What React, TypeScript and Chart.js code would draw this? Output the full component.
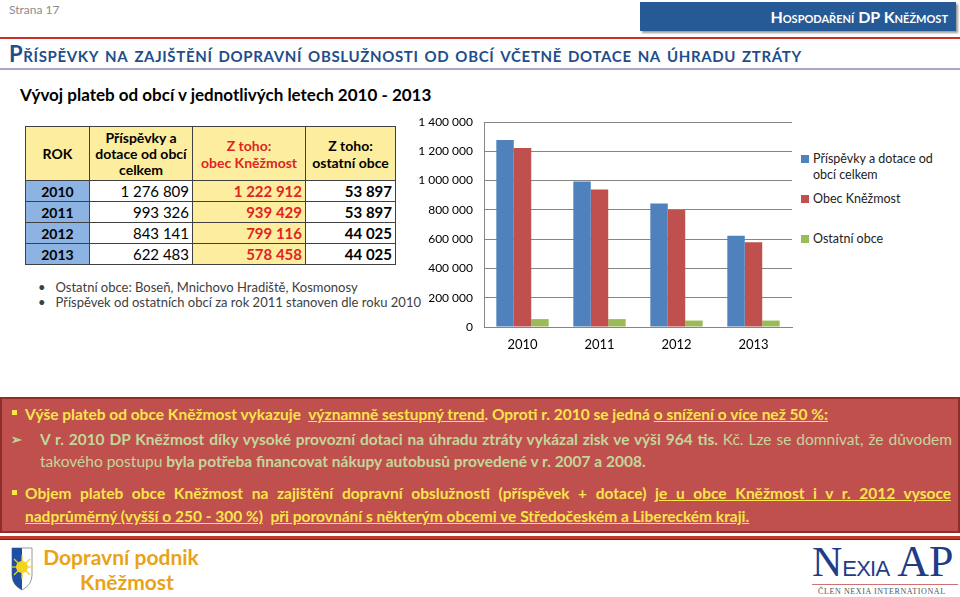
import React, { useEffect, useRef } from "react";
import { Chart, registerables } from "chart.js";

Chart.register(...registerables);

const years = ["2010", "2011", "2012", "2013"];
const totalValues = [1276809, 993326, 843141, 622483];
const kinzmostValues = [1222912, 939429, 799116, 578458];
const otherValues = [53897, 53897, 44025, 44025];
const seriesNames = ["Příspěvky a dotace od obcí celkem", "Obec Kněžmost", "Ostatní obce"];
const seriesColors = ["#4F81BD", "#C0504D", "#9BBB59"];
const yTicksMax = 1400000;
const yStep = 200000;

const fmt = (n: number) => n.toString().replace(/\B(?=(\d{3})+(?!\d))/g, " ");

const FONT = "Lato, 'Open Sans', sans-serif";

function BarChart() {
  const ref = useRef<HTMLCanvasElement>(null);
  useEffect(() => {
    if (!ref.current) return;
    const chart = new Chart(ref.current, {
      type: "bar",
      data: {
        labels: years,
        datasets: [totalValues, kinzmostValues, otherValues].map((d, i) => ({
          label: seriesNames[i],
          data: d,
          backgroundColor: seriesColors[i],
          borderWidth: 0,
          barPercentage: 1,
          categoryPercentage: 0.68,
        })),
      },
      options: {
        animation: false,
        responsive: false,
        maintainAspectRatio: false,
        layout: { padding: { top: 22, right: 8, left: 0, bottom: 0 } },
        plugins: { legend: { display: false }, tooltip: { enabled: false } },
        scales: {
          x: {
            grid: { display: false, drawTicks: false },
            border: { color: "#868686", width: 1 },
            ticks: { color: "#000", font: { family: FONT, size: 13 }, padding: 10 },
            afterFit: (s: any) => { s.height = 33; },
          },
          y: {
            min: 0,
            max: yTicksMax,
            ticks: {
              stepSize: yStep,
              color: "#000",
              font: { family: FONT, size: 12 },
              padding: 11,
              callback: (v: any) => fmt(Number(v)),
            },
            grid: { color: "#868686", lineWidth: 1, drawTicks: false },
            border: { color: "#868686", width: 1 },
            afterFit: (s: any) => { s.width = 84; },
          },
        },
      },
    });
    return () => chart.destroy();
  }, []);
  return <canvas ref={ref} width={400} height={260} style={{ position: "absolute", left: 400, top: 100, width: 400, height: 260 }} />;
}

const abs = (l: number, t: number, extra: any = {}) => ({ position: "absolute" as const, left: l, top: t, ...extra });

const jLine = (text: any, extra: any = {}) => (
  <div style={{ textAlign: "justify", textAlignLast: "justify", whiteSpace: "nowrap", ...extra }}>{text}</div>
);

export default function App() {
  const colX = [25, 89, 192, 305, 396];
  const headerY = 126;
  const rowH = 21;
  const yellow = "#FCEE9E";
  const blueCell = "#8DB3E2";
  const cell = (x0: number, x1: number, y: number, h: number, bg: string, content: any, style: any = {}) => (
    <div style={{ position: "absolute", left: x0, top: y, width: x1 - x0, height: h, background: bg, boxSizing: "border-box", border: "1px solid #404040", display: "flex", alignItems: "center", ...style }}>{content}</div>
  );
  const yel = "#F7E54A";
  const grn = "#C3D69B";
  return (
    <div style={{ position: "fixed", left: 0, top: 0, width: 960, height: 597, background: "#fff", fontFamily: FONT, overflow: "hidden" }}>
      <div style={abs(9, 2, { fontSize: 12, color: "#8c8c8c" })}>Strana 17</div>
      <div style={abs(640, 2, { width: 316, height: 29, background: "#265A96", boxShadow: "2px 2px 2px #9a9a9a", color: "#fff", fontWeight: 700, fontSize: 16, fontVariant: "small-caps", textAlign: "right", lineHeight: "29px", paddingRight: 8, boxSizing: "border-box" })}>Hospodaření DP Kněžmost</div>
      <div style={abs(0, 37, { width: 960, height: 2, background: "#C8302C" })} />
      <div style={abs(9, 40, { fontSize: 22, fontWeight: 700, color: "#1F4E8C", fontVariant: "small-caps", whiteSpace: "nowrap", letterSpacing: 0.65 })}>Příspěvky na zajištění dopravní obslužnosti od obcí včetně dotace na úhradu ztráty</div>
      <div style={abs(0, 68, { width: 960, height: 2, background: "#A7A9C6" })} />
      <div style={abs(20, 84, { fontSize: 17, fontWeight: 700, color: "#000", whiteSpace: "nowrap" })}>Vývoj plateb od obcí v jednotlivých letech 2010 - 2013</div>

      {cell(colX[0], colX[1] + 1, headerY, 55, yellow, "ROK", { justifyContent: "center", fontWeight: 700, fontSize: 14 })}
      {cell(colX[1], colX[2] + 1, headerY, 55, yellow, <span>Příspěvky a<br />dotace od obcí<br />celkem</span>, { justifyContent: "center", textAlign: "center", fontWeight: 700, fontSize: 14, lineHeight: "16px" })}
      {cell(colX[2], colX[3] + 1, headerY, 55, yellow, <span>Z toho:<br />obec Kněžmost</span>, { justifyContent: "center", textAlign: "center", fontWeight: 700, fontSize: 14, lineHeight: "17px", color: "#E02424" })}
      {cell(colX[3], colX[4], headerY, 55, yellow, <span>Z toho:<br />ostatní obce</span>, { justifyContent: "center", textAlign: "center", fontWeight: 700, fontSize: 14, lineHeight: "17px" })}
      {years.map((y, i) => {
        const top = headerY + 54 + i * rowH;
        return (
          <React.Fragment key={y}>
            {cell(colX[0], colX[1] + 1, top, rowH + 1, blueCell, y, { justifyContent: "center", fontWeight: 700, fontSize: 14 })}
            {cell(colX[1], colX[2] + 1, top, rowH + 1, "#fff", fmt(totalValues[i]), { justifyContent: "flex-end", paddingRight: 3, fontSize: 15 })}
            {cell(colX[2], colX[3] + 1, top, rowH + 1, yellow, fmt(kinzmostValues[i]), { justifyContent: "flex-end", paddingRight: 3, fontSize: 15, fontWeight: 700, color: "#E02424" })}
            {cell(colX[3], colX[4], top, rowH + 1, "#fff", fmt(otherValues[i]), { justifyContent: "flex-end", paddingRight: 3, fontSize: 15, fontWeight: 700 })}
          </React.Fragment>
        );
      })}
      <div style={abs(38, 280, { fontSize: 13, color: "#404040", lineHeight: "15px", whiteSpace: "nowrap" })}>
        <div>•&nbsp;&nbsp;&nbsp;Ostatní obce: Boseň, Mnichovo Hradiště, Kosmonosy</div>
        <div>•&nbsp;&nbsp;&nbsp;Příspěvek od ostatních obcí za rok 2011 stanoven dle roku 2010</div>
      </div>

      <BarChart />
      <div style={abs(801, 151, { fontSize: 12.5, color: "#222", lineHeight: "16px", width: 160 })}>
        {[0, 1, 2].map((i) => (
          <div key={i} style={{ position: "absolute", left: 0, top: [0, 40, 80][i], display: "flex" }}>
            <div style={{ width: 8, height: 8, background: seriesColors[i], marginTop: 4, marginRight: 4, flex: "none" }} />
            <div style={{ width: 140 }}>{seriesNames[i]}</div>
          </div>
        ))}
      </div>

      <div style={abs(0, 397, { width: 960, height: 136, background: "#C0504D", boxSizing: "border-box", border: "2px solid #8E2E2B", fontSize: 15.5, fontWeight: 700 })}>
        <div style={abs(10, 11, { width: 5, height: 5, background: yel })} />
        <div style={abs(23, 4, { color: yel, whiteSpace: "nowrap", lineHeight: "22px" })}>
          Výše plateb od obce Kněžmost vykazuje&nbsp;&nbsp;<u>významně sestupný trend</u>. Oproti r. 2010 se jedná <u>o snížení o více než 50 %:</u>
        </div>
        <div style={abs(9, 32, { color: grn, fontSize: 13 })}>➢</div>
        <div style={abs(38, 29, { color: grn, width: 912, lineHeight: "22px" })}>
          {jLine(<>V r. 2010 DP Kněžmost díky vysoké provozní dotaci na úhradu ztráty vykázal zisk ve výši 964 tis. <span style={{ fontWeight: 400 }}>Kč. Lze se domnívat, že důvodem</span></>)}
          <div style={{ whiteSpace: "nowrap" }}><span style={{ fontWeight: 400 }}>takového postupu</span> byla potřeba financovat nákupy autobusů provedené v r. 2007 a 2008.</div>
        </div>
        <div style={abs(10, 91, { width: 5, height: 5, background: yel })} />
        <div style={abs(23, 83, { color: yel, width: 926, lineHeight: "23px" })}>
          {jLine(<>Objem plateb obce Kněžmost na zajištění dopravní obslužnosti (příspěvek + dotace) <u>je u obce Kněžmost i v r. 2012 vysoce</u></>)}
          <div style={{ whiteSpace: "nowrap" }}><u>nadprůměrný (vyšší o 250 - 300 %)</u>&nbsp;&nbsp;<u>při porovnání s některým obcemi ve Středočeském a Libereckém kraji.</u></div>
        </div>
      </div>

      <div style={abs(0, 536, { width: 960, height: 3, background: "#C0392B", borderBottom: "1px solid #7a1f1a" })} />
      <svg style={abs(11, 547)} width={22} height={44} viewBox="0 0 22 44">
        <path d="M1 1 H21 V28 Q21 38 11 43 Q1 38 1 28 Z" fill="#fff" stroke="#999" strokeWidth="1" />
        <path d="M1 1 H11 V43 Q1 38 1 28 Z" fill="#1F4FA0" />
        <circle cx="11" cy="20" r="6" fill="#F4D21F" />
        <g stroke="#F4D21F" strokeWidth="1.2">
          <line x1="11" y1="8" x2="11" y2="32" />
          <line x1="0" y1="20" x2="22" y2="20" />
          <line x1="3" y1="12" x2="19" y2="28" />
          <line x1="19" y1="12" x2="3" y2="28" />
        </g>
      </svg>
      <div style={abs(38, 544, { color: "#E8A317", fontSize: 21, fontWeight: 700, lineHeight: "25px", textAlign: "center", width: 166, whiteSpace: "nowrap" })}>
        <div>Dopravní podnik</div>
        <div style={{ paddingLeft: 12 }}>Kněžmost</div>
      </div>
      <div style={abs(812, 536, { color: "#1F3C88", fontFamily: "'Liberation Serif', serif", whiteSpace: "nowrap" })}>
        <span style={{ fontSize: 42, lineHeight: "48px" }}>N</span>
        <span style={{ fontSize: 22, fontFamily: "'Liberation Sans', sans-serif", letterSpacing: -0.8 }}>EXIA</span>
        <span style={{ fontSize: 44, marginLeft: 8 }}>AP</span>
      </div>
      <div style={abs(812, 584, { width: 146, height: 1, background: "#D07070" })} />
      <div style={abs(818, 587, { fontSize: 8, fontFamily: "'Liberation Serif', serif", color: "#555", letterSpacing: 0.6, whiteSpace: "nowrap" })}>ČLEN NEXIA INTERNATIONAL</div>
    </div>
  );
}
